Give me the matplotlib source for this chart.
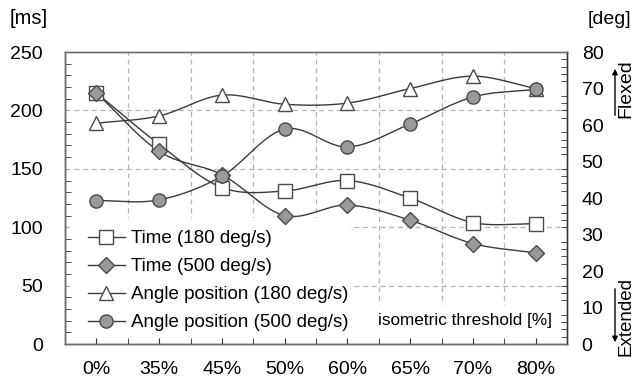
import numpy as np
import matplotlib
matplotlib.use("Agg")
import matplotlib.pyplot as plt
from matplotlib.lines import Line2D
from matplotlib.patches import FancyArrowPatch, Rectangle

plt.rcParams['font.family'] = ['Liberation Sans', 'DejaVu Sans']

categories = ["0%", "35%", "45%", "50%", "60%", "65%", "70%", "80%"]
time_180 = [215, 171, 134, 131, 140, 125, 104, 103]      # ms
time_500 = [215, 165, 145, 110, 119, 106, 86, 78]        # ms
angle_180 = [60.5, 62.5, 68.2, 65.7, 66.0, 70.0, 73.4, 70.0]  # deg
angle_500 = [39.3, 39.5, 46.0, 58.9, 54.0, 60.3, 67.7, 69.8]  # deg

LINE = "#3a3a3a"
EDGE = "#4a4a4a"
FILL = "#999999"
GRID = "#b4b4b4"
FS = 14


def smooth(xs, ys, n=30):
    """Catmull-Rom curve through the points (Excel-style smoothed line)."""
    xs = np.asarray(xs, float)
    ys = np.asarray(ys, float)
    px = np.concatenate([[2 * xs[0] - xs[1]], xs, [2 * xs[-1] - xs[-2]]])
    py = np.concatenate([[2 * ys[0] - ys[1]], ys, [2 * ys[-1] - ys[-2]]])
    ox, oy = [], []
    t = np.linspace(0, 1, n, endpoint=False)
    for i in range(1, len(px) - 2):
        for p, out in ((px, ox), (py, oy)):
            p0, p1, p2, p3 = p[i - 1], p[i], p[i + 1], p[i + 2]
            out.extend(0.5 * (2 * p1 + (-p0 + p2) * t
                              + (2 * p0 - 5 * p1 + 4 * p2 - p3) * t ** 2
                              + (-p0 + 3 * p1 - 3 * p2 + p3) * t ** 3))
    ox.append(xs[-1]); oy.append(ys[-1])
    return np.array(ox), np.array(oy)


fig = plt.figure(figsize=(6.35, 3.8), dpi=100)
ax = fig.add_axes([0.1024, 0.0947, 0.7906, 0.7683])
ax2 = ax.twinx()

x = np.arange(len(categories))

ax.set_xlim(-0.5, len(categories) - 0.5)
ax.set_ylim(0, 250)
ax2.set_ylim(0, 80)

# grid
for b in np.arange(0.5, len(categories) - 0.5, 1.0):
    ax.axvline(b, color=GRID, lw=0.9, ls=(0, (4, 3)), zorder=0)
for g in (50, 100, 150, 200):
    ax.axhline(g, color=GRID, lw=0.9, ls=(0, (4, 3)), zorder=0)

# white backing behind the legend block hides the grid there
ax.add_patch(Rectangle((0.01, 0.014), 0.558, 0.418, transform=ax.transAxes,
                       facecolor='white', edgecolor='none', zorder=0.5))
# same for the axis caption in the lower right
ax.add_patch(Rectangle((0.60, 0.014), 0.385, 0.118, transform=ax.transAxes,
                       facecolor='white', edgecolor='none', zorder=0.5))

series = [
    (ax, time_180, 's', 'white', 9.5, "Time (180 deg/s)"),
    (ax, time_500, 'D', FILL, 8.0, "Time (500 deg/s)"),
    (ax2, angle_180, '^', 'white', 10.0, "Angle position (180 deg/s)"),
    (ax2, angle_500, 'o', FILL, 9.5, "Angle position (500 deg/s)"),
]
handles = []
for a, vals, mk, fc, ms, lab in series:
    sx, sy = smooth(x, vals)
    a.plot(sx, sy, color=LINE, lw=1.0, zorder=3)
    a.plot(x, vals, ls='none', marker=mk, ms=ms, mfc=fc, mec=EDGE, mew=1.0, zorder=4)
    handles.append(Line2D([], [], color=LINE, lw=1.0, marker=mk, ms=ms,
                          mfc=fc, mec=EDGE, mew=1.0, label=lab))

# spines and ticks
for a in (ax, ax2):
    for s in a.spines.values():
        s.set_color("#6e6e6e")
        s.set_linewidth(1.0)
ax.spines['left'].set_color("#333333")
ax.spines['bottom'].set_color("#333333")
ax2.spines['right'].set_color("#333333")

ax.set_xticks(x)
ax.set_xticklabels(categories, fontsize=FS)
ax.set_xticks(np.arange(-0.5, len(categories), 1.0), minor=True)
ax.tick_params(axis='x', which='both', direction='in', length=4, pad=12.5, color="#333333")

ax.set_yticks(np.arange(0, 251, 50))
ax.set_yticks(np.arange(0, 251, 10), minor=True)
ax.tick_params(axis='y', which='major', direction='in', length=0, pad=16, labelsize=FS)
ax.tick_params(axis='y', which='minor', direction='in', length=4, color="#333333")

ax2.set_yticks(np.arange(0, 81, 10))
ax2.set_yticks(np.arange(0, 81, 2), minor=True)
ax2.tick_params(axis='y', which='major', direction='in', length=0, pad=10.5, labelsize=FS)
ax2.tick_params(axis='y', which='minor', direction='in', length=4, color="#333333")

ax2.legend(handles=handles, loc='lower left', bbox_to_anchor=(0.03, 0.018),
           frameon=False, fontsize=13.5, handlelength=2.0, handletextpad=0.33,
           labelspacing=0.58, borderaxespad=0)

ax.text(0.97, 0.079, "isometric threshold [%]", transform=ax.transAxes,
        ha='right', va='center', fontsize=12.3, zorder=2)

fig.text(10 / 635, 1 - 18 / 380, "[ms]", ha='left', va='center', fontsize=14.5)
fig.text(631 / 635, 1 - 20 / 380, "[deg]", ha='right', va='center', fontsize=14)

# direction annotations on the right side
fig.text(626 / 635, 1 - 89 / 380, "Flexed", rotation=90, ha='center', va='center', fontsize=14)
fig.text(626 / 635, 1 - 316 / 380, "Extended", rotation=90, ha='center', va='center', fontsize=13.5)
fig.add_artist(FancyArrowPatch(
    (615 / 635, 1 - 118 / 380), (615 / 635, 1 - 66 / 380), transform=fig.transFigure,
    arrowstyle='-|>', mutation_scale=8, color='black', lw=1.0))
fig.add_artist(FancyArrowPatch(
    (615 / 635, 1 - 286 / 380), (615 / 635, 1 - 345 / 380), transform=fig.transFigure,
    arrowstyle='-|>', mutation_scale=8, color='black', lw=1.0))

fig.savefig("out.png", dpi=100)
